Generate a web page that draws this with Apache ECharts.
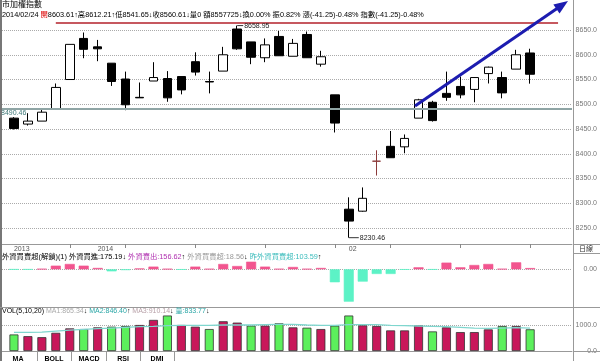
<!DOCTYPE html>
<html><head><meta charset="utf-8">
<script src="https://cdn.jsdelivr.net/npm/echarts@6/dist/echarts.min.js"></script>
<style>html,body{margin:0;padding:0;background:#fff}#c{width:600px;height:361px}</style>
</head><body><div id="c"></div>
<script>
const dates = ['2013/12/24','2013/12/25','2013/12/26','2013/12/27','2013/12/30','2013/12/31','2014/01/02','2014/01/03','2014/01/06','2014/01/07','2014/01/08','2014/01/09','2014/01/10','2014/01/13','2014/01/14','2014/01/15','2014/01/16','2014/01/17','2014/01/20','2014/01/21','2014/01/22','2014/01/23','2014/01/24','2014/01/27','2014/02/05','2014/02/06','2014/02/07','2014/02/10','2014/02/11','2014/02/12','2014/02/13','2014/02/14','2014/02/17','2014/02/18','2014/02/19','2014/02/20','2014/02/21','2014/02/24'];
const opens  = [8472,8460,8466,8490.46,8550,8633,8616,8583,8551,8514,8547,8552,8556,8586,8546,8567,8652,8626,8594,8637,8597,8641,8581,8519,8288,8284,8385,8415,8414,8472,8504,8522,8536,8530,8562,8554,8571,8603.61];
const closes = [8451,8466,8484,8534,8621,8611,8612,8546,8499,8513,8554,8513,8529,8565,8545,8600,8612,8595,8620,8598,8623,8594,8596,8462,8264,8310,8385,8392,8431,8509,8467,8514,8519,8554,8575,8523,8600,8560.61];
const lows   = [8449,8457,8466,8490.46,8550,8593,8587,8537,8488,8513,8547,8505,8520,8558,8522,8567,8610,8581,8585,8598,8597,8594,8576,8443,8230.46,8283,8356,8392,8401,8472,8465,8507,8512,8504,8542,8512,8571,8541.65];
const highs  = [8474,8482,8492,8542,8621,8645,8630,8583,8566,8544,8585,8567,8556,8605,8566,8616,8658.95,8626,8633,8648,8632,8647,8608,8519,8312,8332,8407,8446,8439,8511,8507,8566,8556,8555,8576,8566,8610,8612.21];
const volumes = [636,571,532,700,870,844,909,935,961,1000,1195,1364,1000,935,844,1143,1091,974,974,1065,909,896,844,974,1364,987,961,792,792,987,753,909,727,727,831,961,961,834];
const volMA = [714,714,727,766,805,831,857,883,909,935,948,974,987,987,987,1000,1000,1000,1013,1026,1026,1000,987,987,1013,1013,1013,987,974,961,948,935,909,883,870,883,896,883];
const foreignNet = [-3,-3,6,54,79,54,20,-30,-10,12,40,6,-5,40,6,79,49,113,40,6,35,6,20,-192,-479,-182,-69,-69,-5,30,-4,99,30,64,79,6,103.59,18.56];
const priceTicks = [8250,8300,8350,8400,8450,8500,8550,8600,8650];
const volTicks = [0,1000];
const netTicks = [0];
const xLabels = {1:'2013', 7:'2014', 25:'02'};
const weekTicks = [5,9,14,19,24,28,33,38];
const supportLevel = 8490.46;
const resistLevel = 8664;
const lastClose = 8560.61;

const cats = ['pad0'].concat(dates, ['pad1','pad2','pad3']);
const F = "'Liberation Sans','Noto Sans CJK TC',sans-serif";

const candleData = dates.map((d,i)=>[d, opens[i], closes[i], lows[i], highs[i]]);
const volData = dates.map((d,i)=>({
  value:[d, volumes[i]],
  itemStyle:{color: (i>0 && closes[i]>closes[i-1]) ? '#c8175a' : '#5cf05c'}
}));
const netData = dates.map((d,i)=>({
  value:[d, foreignNet[i]],
  itemStyle:{color: foreignNet[i]>=0 ? '#f2558f' : '#5cf2c6', borderColor: foreignNet[i]>=0 ? '#f2558f' : '#5cf2c6', borderWidth:0.6}
}));
const maData = dates.map((d,i)=>[d, volMA[i]]);

const chart = echarts.init(document.getElementById('c'));
const dotted = {show:true, lineStyle:{type:'dotted', color:'#aaa', width:1}};
const option = {
  animation:false,
  backgroundColor:'#fff',
  grid:[
    {left:0, right:27, top:17, height:227},
    {left:0, right:27, top:250, height:57},
    {left:0, right:27, top:307, height:44}
  ],
  xAxis:[
    {type:'category', gridIndex:0, data:cats, boundaryGap:false,
     axisLine:{show:true, lineStyle:{color:'#999'}},
     axisTick:{show:true, interval:(idx)=>weekTicks.includes(idx), alignWithLabel:true, length:4, lineStyle:{color:'#888'}},
     axisLabel:{show:true, interval:(idx)=>xLabels[idx]!==undefined, formatter:(v,idx)=>xLabels[idx]||'', align:'left', margin:2, fontSize:7, color:'#555', fontFamily:F},
     splitLine:{show:false}},
    {type:'category', gridIndex:1, data:cats, boundaryGap:false, show:false},
    {type:'category', gridIndex:2, data:cats, boundaryGap:false,
     axisLine:{show:true, lineStyle:{color:'#999'}}, axisTick:{show:false}, axisLabel:{show:false}}
  ],
  yAxis:[
    {type:'value', gridIndex:0, position:'right', min:8217.7, max:8676.3, scale:true,
     axisLine:{show:false},
     axisTick:{show:false, customValues:priceTicks},
     axisLabel:{customValues:priceTicks, formatter:v=>v.toFixed(1), align:'right', margin:25, fontSize:7, color:'#777', fontFamily:F},
     splitLine:dotted},
    {type:'value', gridIndex:1, position:'right', min:-558, max:286,
     axisLine:{show:false},
     axisTick:{show:false, customValues:netTicks},
     axisLabel:{customValues:netTicks, formatter:v=>v.toFixed(2), align:'right', margin:25, fontSize:7, color:'#777', fontFamily:F},
     splitLine:dotted},
    {type:'value', gridIndex:2, position:'right', min:0, max:1692,
     axisLine:{show:false},
     axisTick:{show:false, customValues:volTicks},
     axisLabel:{customValues:volTicks, formatter:v=>v.toFixed(1), align:'right', margin:25, fontSize:7, color:'#777', fontFamily:F},
     splitLine:dotted}
  ],
  series:[
    {type:'candlestick', xAxisIndex:0, yAxisIndex:0, data:candleData, encode:{x:0, y:[1,2,3,4]}, barWidth:9,
     itemStyle:{color:'#fff', color0:'#000', borderColor:'#000', borderColor0:'#000', borderColorDoji:'#8b3a3a', borderWidth:1},
     markLine:{silent:true, symbol:['none','none'], animation:false,
       data:[
         {yAxis:supportLevel, lineStyle:{color:'#8fa5a5', width:2, type:'solid'},
          label:{show:true, formatter:'8490.46', position:'insideStartBottom', distance:[1,1], color:'#3d7878', fontSize:7, fontFamily:F}},
         [{coord:[dates[3], resistLevel], lineStyle:{color:'#b3202a', width:1.5, type:'solid'}, label:{show:false}},
          {coord:['pad2', resistLevel]}],
         {yAxis:lastClose, lineStyle:{opacity:0},
          label:{show:true, formatter:'8560.6', position:'end', distance:3, color:'#d22', fontSize:7, fontFamily:F}}
       ]},
     markPoint:{silent:true, animation:false,
       data:[
         {coord:[dates[16], highs[16]], symbol:'rect', symbolSize:[6,1], symbolOffset:[3,0], itemStyle:{color:'#333'},
          label:{show:true, position:'right', distance:1, formatter:'8658.95', color:'#222', fontSize:7, fontFamily:F}},
         {coord:[dates[24], lows[24]], symbol:'rect', symbolSize:[10,1], symbolOffset:[5,0], itemStyle:{color:'#333'},
          label:{show:true, position:'right', distance:1, formatter:'8230.46', color:'#222', fontSize:7, fontFamily:F}}
       ]}
    },
    {type:'bar', xAxisIndex:1, yAxisIndex:1, data:netData, barWidth:10},
    {type:'bar', xAxisIndex:2, yAxisIndex:2, data:volData, barWidth:9, itemStyle:{borderColor:'#333', borderWidth:0.8}},
    {type:'line', xAxisIndex:2, yAxisIndex:2, data:maData, symbol:'none', lineStyle:{color:'#7fd6ce', width:1.3}, z:5}
  ]
};
chart.setOption(option);

// frame, headers and annotations
const FS = 7.3;
const L = (x1,y1,x2,y2,c,w)=>({type:'line', silent:true, shape:{x1,y1,x2,y2}, style:{stroke:c||'#999', lineWidth:w||1}, z:50});
const T = (x,y,text,opt)=>Object.assign({type:'text', silent:true, x, y, style:Object.assign({text, fill:'#000', font:'7px '+F, textVerticalAlign:'middle'}, opt||{}), z:60});
const rs = (fill)=>({fontSize:FS, fontFamily:F, fill});

// arrow
const a0 = [415,106], tip = [568,1];
const dx = tip[0]-a0[0], dy = tip[1]-a0[1], len = Math.hypot(dx,dy);
const ux = dx/len, uy = dy/len, nx = -uy, ny = ux;
const bx = tip[0]-14*ux, by = tip[1]-14*uy;

const g = [
  {type:'rect', silent:true, shape:{x:0,y:0,width:2,height:361}, style:{fill:'#777'}, z:50},
  L(573.5,0,573.5,361,'#999',1),
  L(573,244.5,600,244.5,'#999',1),
  L(573,253.5,600,253.5,'#999',1),
  L(0,307.5,600,307.5,'#999',1),
  L(573,351.5,600,351.5,'#999',1),
  T(586,249,'日線',{textAlign:'center', font:'7px '+F, fill:'#333'}),
  T(2,5,'市加權指數',{font:'8px '+F}),
  T(2,15,'',{text:'{d|2014/02/24 }{r|開}{d|8603.61↑高8612.21↑低8541.65↓收8560.61↓量0 額8557725↓換0.00% 振0.82% 漲(-41.25)-0.48% 指數(-41.25)-0.48%}',
     rich:{d:rs('#000'), r:rs('#d00')}}),
  T(2,257,'',{text:'{k|外資買賣超(解鎖)(1) 外資買進:175.19↓ }{m|外資賣出:156.62}{k|↑ }{g|外資買賣超:18.56}{k|↓ }{c|昨外資買賣超:103.59}{k|↑}',
     rich:{k:rs('#000'), m:rs('#b030b0'), g:rs('#999'), c:rs('#3bbcbc')}}),
  T(2,311,'',{text:'{k|VOL(5,10,20) }{a|MA1:865.34}{k|↓ }{b|MA2:846.40}{k|↑ }{e|MA3:910.14}{k|↓ }{b|量:833.77}{k|↓}',
     rich:{k:{fontSize:7,fontFamily:F,fill:'#000'}, a:{fontSize:7,fontFamily:F,fill:'#aaa'}, b:{fontSize:7,fontFamily:F,fill:'#2aa6a6'}, e:{fontSize:7,fontFamily:F,fill:'#b8a0a8'}}}),
  // tabs
  L(37.5,352,37.5,361,'#999',1), L(71.5,352,71.5,361,'#999',1), L(106.5,352,106.5,361,'#999',1), L(140.5,352,140.5,361,'#999',1), L(174.5,352,174.5,361,'#999',1),
  T(18,359,'MA',{textAlign:'center', font:'bold 7px '+F}),
  T(54,359,'BOLL',{textAlign:'center', font:'bold 7px '+F}),
  T(89,359,'MACD',{textAlign:'center', font:'bold 7px '+F}),
  T(123,359,'RSI',{textAlign:'center', font:'bold 7px '+F}),
  T(157,359,'DMI',{textAlign:'center', font:'bold 7px '+F}),
  // arrow annotation
  {type:'line', silent:true, shape:{x1:a0[0],y1:a0[1],x2:bx+2*ux,y2:by+2*uy}, style:{stroke:'#1c1cb0', lineWidth:3}, z:70},
  {type:'polygon', silent:true, shape:{points:[[tip[0],tip[1]],[bx+5.5*nx,by+5.5*ny],[bx-5.5*nx,by-5.5*ny]]}, style:{fill:'#1c1cb0'}, z:70}
];
chart.setOption({graphic:g});
</script>
</body></html>
